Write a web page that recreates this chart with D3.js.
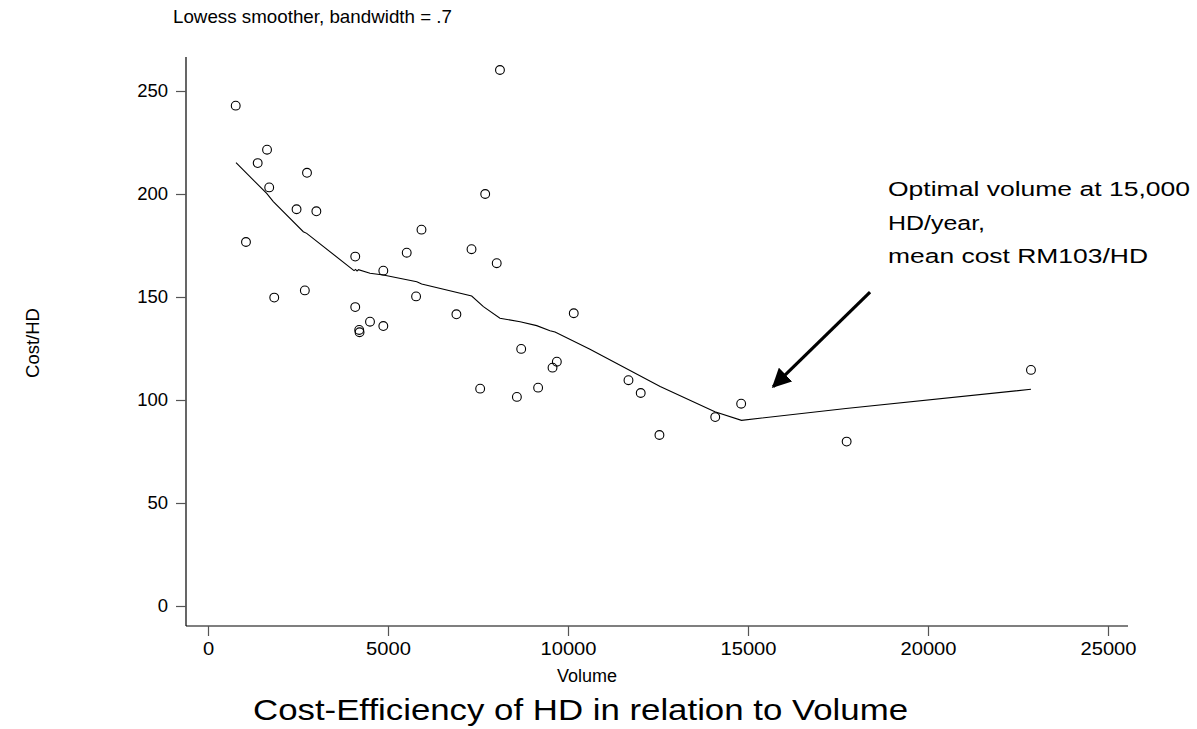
<!DOCTYPE html>
<html>
<head>
<meta charset="utf-8">
<script src="https://cdn.jsdelivr.net/npm/d3@7"></script>
<style>
  html, body { margin: 0; padding: 0; background: #fff; }
  svg { display: block; font-family: "Liberation Sans", Arial, sans-serif; }
</style>
</head>
<body>
<svg id="chart" width="1197" height="729"></svg>
<script>
// ---- data ----
const volume = [770, 1380, 1640, 1700, 2750, 2460, 3010, 1055, 4090, 4870,
  1840, 2690, 4090, 4500, 4870, 4200, 4210, 8110, 7700, 5930,
  5520, 7320, 8020, 5780, 6900, 10160, 8700, 9690, 9570, 7560,
  9170, 8580, 11680, 12020, 12540, 14090, 14810, 22860, 17740];
const cost = [242.9, 215, 221.5, 203.2, 210.3, 192.6, 191.6, 176.7, 169.6, 162.8,
  149.7, 153.2, 145.1, 138, 135.9, 134, 132.9, 260.2, 200, 182.7,
  171.5, 173.2, 166.4, 150.3, 141.6, 142.1, 124.8, 118.6, 115.7, 105.5,
  106, 101.5, 109.6, 103.4, 83, 91.7, 98.2, 114.6, 79.8];

// lowess smoother (bandwidth .7)
const lowessX = [778, 1630, 1814, 2647, 2742, 4056, 4100, 4140, 4180, 4500, 4870, 5800, 5935,
  7325, 7650, 8110, 8670, 9130, 9500, 9640, 10610, 12560, 14080, 14820, 17720, 22860];
const lowessY = [215.2, 200.3, 196.3, 181.7, 180.9, 162.8, 163.4, 162.6, 163.3, 161.5, 160.7, 157.4, 156.3,
  150.5, 145.3, 139.7, 138, 136.1, 133.6, 133, 124.6, 106.5, 94.3, 90.1, 95.9, 105.2];

const xTicks = [0, 5000, 10000, 15000, 20000, 25000];
const yTicks = [0, 50, 100, 150, 200, 250];

const subtitle = "Lowess smoother, bandwidth = .7";
const xLabel = "Volume";
const yLabel = "Cost/HD";
const title = "Cost-Efficiency of HD in relation to Volume";
const noteLines = ["Optimal volume at 15,000", "HD/year,", "mean cost RM103/HD"];
const arrowFrom = [18390, 152.4];
const arrowTo = [15700, 106.5];

// ---- drawing ----
const svg = d3.select("#chart");
const x = d3.scaleLinear().domain([0, 25000]).range([208, 1108]);
const y = d3.scaleLinear().domain([0, 250]).range([606, 91]);

const axisX0 = 186, axisY0 = 626, axisTop = 57, axisRight = 1128;

// axis lines
svg.append("line").attr("x1", axisX0).attr("x2", axisX0).attr("y1", axisTop).attr("y2", axisY0)
  .attr("stroke", "#000").attr("stroke-width", 1.2);
svg.append("line").attr("x1", axisX0).attr("x2", axisRight).attr("y1", axisY0).attr("y2", axisY0)
  .attr("stroke", "#000").attr("stroke-width", 1.2);

// y axis
const gy = svg.append("g").attr("transform", `translate(${axisX0},0)`)
  .call(d3.axisLeft(y).tickValues(yTicks).tickSize(10).tickPadding(8).tickSizeOuter(0));
gy.select(".domain").remove();
gy.selectAll(".tick line").attr("stroke", "#555").attr("stroke-width", 1.2);
gy.selectAll(".tick text").attr("font-size", 18.5).attr("fill", "#000")
  .attr("font-family", "Liberation Sans, Arial, sans-serif");

// x axis
const gx = svg.append("g").attr("transform", `translate(0,${axisY0})`)
  .call(d3.axisBottom(x).tickValues(xTicks).tickFormat(d3.format("d")).tickSize(10).tickPadding(6).tickSizeOuter(0));
gx.select(".domain").remove();
gx.selectAll(".tick line").attr("stroke", "#555").attr("stroke-width", 1.2);
gx.selectAll(".tick text").attr("font-size", 18).attr("fill", "#000")
  .attr("font-family", "Liberation Sans, Arial, sans-serif")
  .attr("transform", "scale(1.12,1)");

// lowess line
const lineData = lowessX.map((v, i) => [v, lowessY[i]]);
svg.append("path").datum(lineData)
  .attr("d", d3.line().x(d => x(d[0])).y(d => y(d[1])))
  .attr("fill", "none").attr("stroke", "#000").attr("stroke-width", 1.1);

// points
const pts = volume.map((v, i) => [v, cost[i]]);
svg.append("g").selectAll("circle").data(pts).join("circle")
  .attr("cx", d => x(d[0])).attr("cy", d => y(d[1])).attr("r", 4.4)
  .attr("fill", "none").attr("stroke", "#000").attr("stroke-width", 1.1);

// arrow
svg.append("defs").append("marker").attr("id", "ah")
  .attr("viewBox", "0 0 10 10").attr("refX", 9).attr("refY", 5)
  .attr("markerWidth", 6).attr("markerHeight", 6).attr("markerUnits", "strokeWidth")
  .attr("orient", "auto")
  .append("path").attr("d", "M0,0 L10,5 L0,10 Z").attr("fill", "#000");
svg.append("line")
  .attr("x1", x(arrowFrom[0])).attr("y1", y(arrowFrom[1]))
  .attr("x2", x(arrowTo[0])).attr("y2", y(arrowTo[1]))
  .attr("stroke", "#000").attr("stroke-width", 3.2).attr("marker-end", "url(#ah)");

// annotation text
const noteWidths = [302, 97, 260];
noteLines.forEach((t, i) => {
  svg.append("text").attr("x", 888).attr("y", 196 + i * 33.5)
    .attr("font-size", 20.5).attr("fill", "#000")
    .attr("textLength", noteWidths[i]).attr("lengthAdjust", "spacingAndGlyphs")
    .text(t);
});

// subtitle
svg.append("text").attr("x", 173).attr("y", 23).attr("font-size", 18.5).attr("fill", "#000")
  .attr("textLength", 279).attr("lengthAdjust", "spacingAndGlyphs").text(subtitle);

// axis labels
svg.append("text").attr("x", 587).attr("y", 682).attr("text-anchor", "middle")
  .attr("font-size", 18).attr("fill", "#000").text(xLabel);
svg.append("text").attr("transform", "translate(39,343) rotate(-90)").attr("text-anchor", "middle")
  .attr("font-size", 18).attr("fill", "#000")
  .attr("textLength", 70).attr("lengthAdjust", "spacingAndGlyphs").text(yLabel);

// title
svg.append("text").attr("x", 253).attr("y", 720)
  .attr("font-size", 29).attr("fill", "#000")
  .attr("textLength", 655).attr("lengthAdjust", "spacingAndGlyphs").text(title);
</script>
</body>
</html>
